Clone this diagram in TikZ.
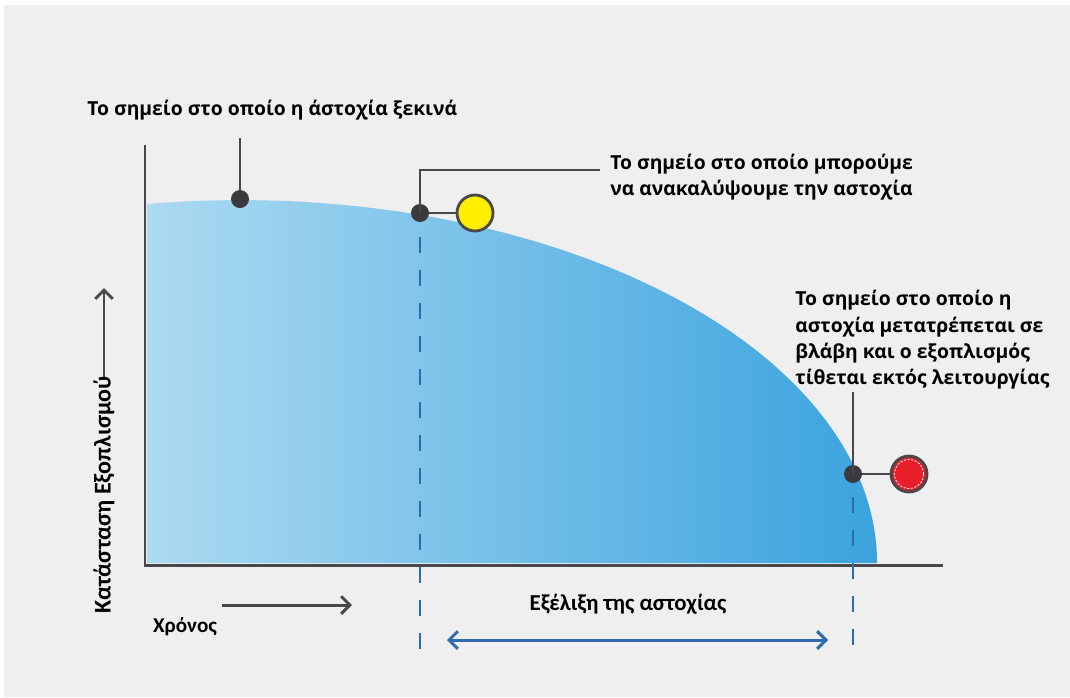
\documentclass[tikz,border=0pt]{standalone}
\usepackage{fontspec}
\setmainfont{Open Sans}
\newfontfamily\calibfont{Carlito}
\usetikzlibrary{arrows.meta}

\definecolor{bgGrey}{RGB}{239,239,239}
\definecolor{lineGrey}{RGB}{72,72,74}
\definecolor{dotGrey}{RGB}{58,58,62}
\definecolor{lightBlue}{RGB}{172,218,241}
\definecolor{deepBlue}{RGB}{58,163,222}
\definecolor{dashBlue}{RGB}{46,106,175}
\definecolor{markYellow}{RGB}{255,238,0}
\definecolor{markRed}{RGB}{232,30,42}

\begin{document}
\begin{tikzpicture}[x=0.02cm, y=0.02cm,
    note/.style={font=\bfseries\fontsize{11}{15}\selectfont, align=left, anchor=west, inner sep=0pt},
    axisnote/.style={font=\calibfont\bfseries\fontsize{12}{14}\selectfont, inner sep=0pt},
    dot/.style={circle, fill=dotGrey, minimum size=0.36cm, inner sep=0pt},
    marker/.style={circle, draw=lineGrey, line width=1.6pt, minimum size=0.72cm, inner sep=0pt},
    leader/.style={lineGrey, line width=1.5pt},
    dashline/.style={dashBlue, line width=1.5pt, dash pattern=on 0.32cm off 0.34cm},
    axis/.style={lineGrey, line width=1.7pt}]

    % Background
    \useasboundingbox (0,0) rectangle (1070,-697);
    \fill[white] (0,0) rectangle (1070,-697);
    \fill[bgGrey] (4,-5) rectangle (1070,-697);

    % Equipment condition curve
    \shade[left color=lightBlue, right color=deepBlue]
        (147,-563) -- (147,-204) arc[start angle=98.4, end angle=0, x radius=637, y radius=363] -- cycle;

    % Axes
    \coordinate (origin) at (145,-565);
    \coordinate (yTop) at (145,-145);
    \coordinate (xEnd) at (943,-565);
    \draw[axis] (yTop) -- (origin) -- (xEnd);

    % Points on the curve
    \node[dot] (start) at (240,-199) {};
    \node[dot] (detect) at (420,-213) {};
    \node[dot] (failure) at (853,-474) {};
    \node[marker, fill=markYellow] (warn) at (475,-213) {};
    \node[marker, fill=markRed] (broken) at (909,-474) {};
    \draw[white, dash pattern=on 1.2pt off 0.9pt, line width=0.45pt] (broken.center) circle (14.5);

    % Leader lines
    \coordinate (startTop) at (240,-138);
    \coordinate (detectEnd) at (600,-170);
    \coordinate (failureTop) at (853,-392);
    \draw[leader] (start) -- (startTop);
    \draw[leader] (detect.center) |- (detectEnd);
    \draw[leader] (detect) -- (warn);
    \draw[leader] (failure.center) -- (failureTop);
    \draw[leader] (failure) -- (broken);

    % Labels
    \node[note] (startText) at (87,-110) {Το σημείο στο οποίο η άστοχία ξεκινά};
    \node[note] (detectText) at (610,-177) {Το σημείο στο οποίο μπορούμε\\να ανακαλύψουμε την αστοχία};
    \node[note] (failureText) at (795,-340) {Το σημείο στο οποίο η\\αστοχία μετατρέπεται σε\\βλάβη και ο εξοπλισμός\\τίθεται εκτός λειτουργίας};

    % Dashed guides
    \coordinate (detectLow) at (420,-650);
    \coordinate (failureLow) at (853,-650);
    \draw[dashline] ([yshift=-0.48cm]detect.center) -- (detectLow);
    \draw[dashline] ([yshift=-0.46cm]failure.center) -- (failureLow);

    % Failure progression span
    \coordinate (spanL) at (447,-640);
    \coordinate (spanR) at (828,-640);
    \draw[dashBlue, line width=1.7pt, {Straight Barb[length=5pt,width=10pt]}-{Straight Barb[length=5pt,width=10pt]}] (spanL) -- (spanR);
    \node[axisnote, font=\calibfont\bfseries\fontsize{13}{15}\selectfont] (spanText) at (628,-604) {Εξέλιξη της αστοχίας};

    % Axis captions
    \coordinate (timeL) at (222,-605);
    \coordinate (timeR) at (352,-605);
    \draw[axis, -{Straight Barb[length=5pt,width=10pt]}] (timeL) -- (timeR);
    \node[axisnote] (timeText) at (185,-627) {Χρόνος};
    \coordinate (stateLow) at (104,-380);
    \coordinate (stateHigh) at (104,-288);
    \draw[axis, -{Straight Barb[length=5pt,width=10pt]}] (stateLow) -- (stateHigh);
    \node[axisnote, font=\calibfont\bfseries\fontsize{13.7}{16}\selectfont, rotate=90] (stateText) at (104,-495) {Κατάσταση Εξοπλισμού};
\end{tikzpicture}
\end{document}
